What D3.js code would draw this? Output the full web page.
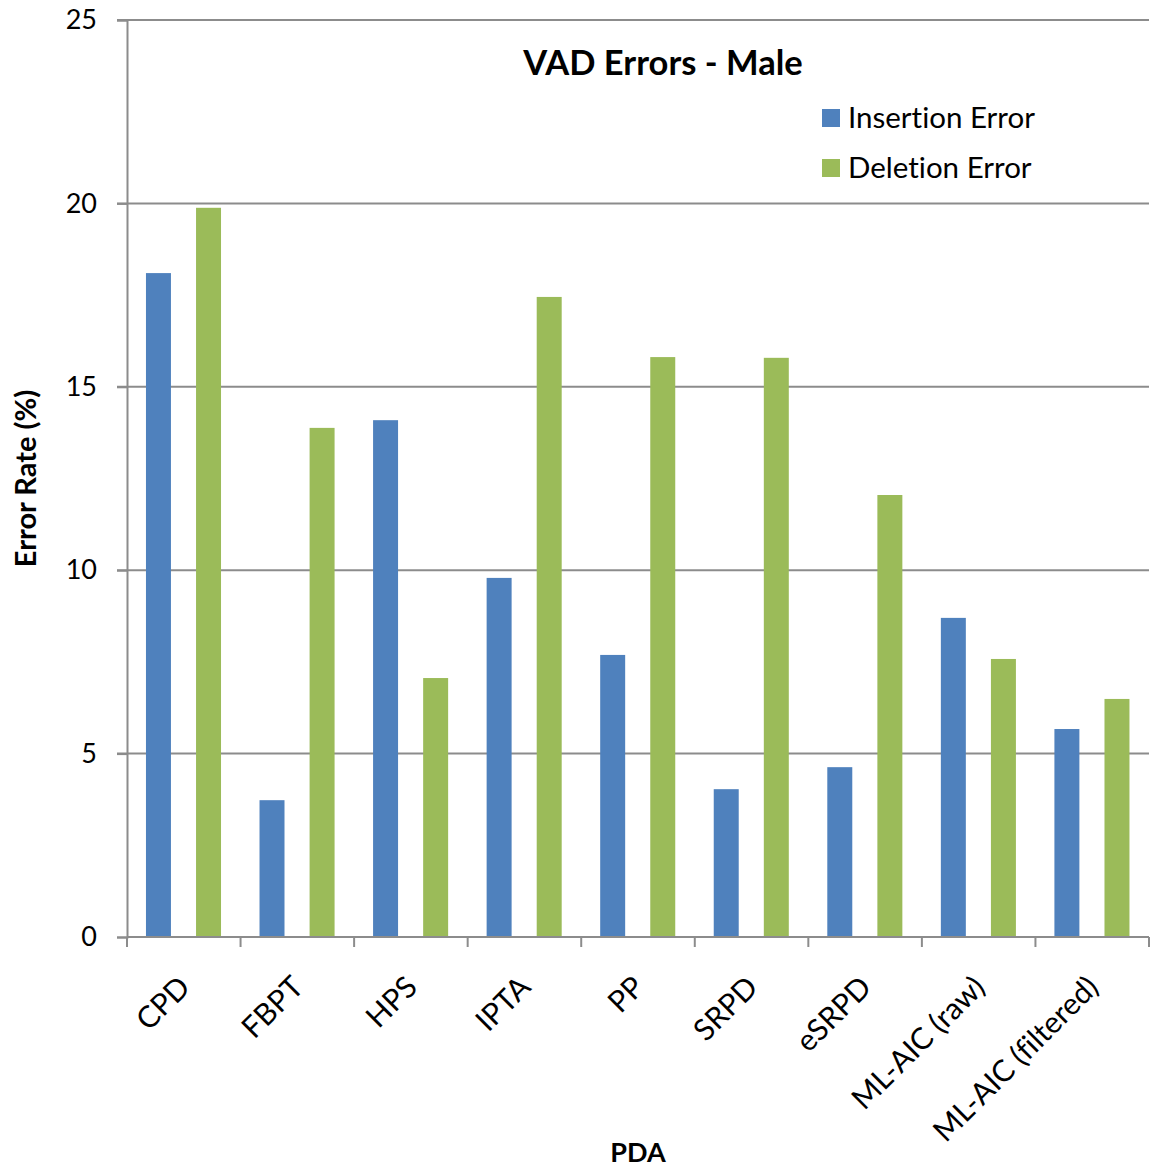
<!DOCTYPE html>
<html>
<head>
<meta charset="utf-8">
<script src="https://cdn.jsdelivr.net/npm/d3@7"></script>
<style>
  html, body { margin: 0; padding: 0; background: #fff; }
  svg { display: block; font-family: Lato, "Open Sans", sans-serif; font-variant-ligatures: none; font-feature-settings: "liga" 0, "dlig" 0; }
</style>
</head>
<body>
<svg id="chart" width="1150" height="1169"></svg>
<script>
// PDA algorithms compared for voice activity detection errors (male speakers)
const categories = ["CPD", "FBPT", "HPS", "IPTA", "PP", "SRPD", "eSRPD", "ML-AIC (raw)", "ML-AIC (filtered)"];
const insertionError = [18.10, 3.73, 14.09, 9.79, 7.69, 4.03, 4.63, 8.70, 5.67];
const deletionError  = [19.88, 13.88, 7.06, 17.45, 15.81, 15.79, 12.05, 7.58, 6.49];
const seriesNames = ["Insertion Error", "Deletion Error"];
const yTicks = [0, 5, 10, 15, 20, 25];

const colors = ["#4F81BD", "#9BBB59"];
const gridColor = "#8c8c8c";

const svg = d3.select("#chart");
const margin = { left: 127, right: 1149, top: 20, bottom: 937 };

const x = d3.scaleBand().domain(categories).range([margin.left, margin.right]).padding(0);
const y = d3.scaleLinear().domain([0, 25]).range([margin.bottom, margin.top]);

// Horizontal gridlines
svg.append("g")
  .selectAll("line")
  .data(yTicks.filter(d => d > 0))
  .join("line")
  .attr("x1", margin.left - 10)
  .attr("x2", margin.right)
  .attr("y1", d => y(d))
  .attr("y2", d => y(d))
  .attr("stroke", gridColor)
  .attr("stroke-width", 2);

// Bars: two series per category with a gap between them
const bw = x.bandwidth();
const barW = bw * 0.22;
const offsets = [bw * 0.167, bw * 0.608];
const seriesData = [insertionError, deletionError];

seriesData.forEach((vals, si) => {
  svg.append("g")
    .selectAll("rect")
    .data(vals)
    .join("rect")
    .attr("x", (d, i) => x(categories[i]) + offsets[si])
    .attr("width", barW)
    .attr("y", d => y(d))
    .attr("height", d => y(0) - y(d))
    .attr("fill", colors[si]);
});

// Y axis
const yAxis = d3.axisLeft(y).tickValues(yTicks).tickSize(10).tickPadding(20).tickFormat(d3.format("d"));
const gy = svg.append("g").attr("transform", `translate(${margin.left},0)`).call(yAxis);
gy.select(".domain").attr("stroke", gridColor).attr("stroke-width", 2);
gy.selectAll(".tick line").attr("stroke", gridColor).attr("stroke-width", 2);
gy.selectAll(".tick text")
  .attr("font-family", "Lato, sans-serif")
  .attr("font-size", 27)
  .attr("fill", "#000");

// X axis: tick marks at category boundaries
const bounds = categories.map(c => x(c)).concat([x(categories[categories.length - 1]) + bw]);
svg.append("line")
  .attr("x1", margin.left).attr("x2", margin.right)
  .attr("y1", y(0)).attr("y2", y(0))
  .attr("stroke", gridColor).attr("stroke-width", 2);
svg.append("g")
  .selectAll("line")
  .data(bounds)
  .join("line")
  .attr("x1", d => d).attr("x2", d => d)
  .attr("y1", y(0)).attr("y2", y(0) + 10)
  .attr("stroke", gridColor).attr("stroke-width", 2);

// Rotated category labels
svg.append("g")
  .selectAll("text")
  .data(categories)
  .join("text")
  .attr("transform", d => `translate(${x(d) + bw / 2 + 8},${y(0) + 52}) rotate(-45)`)
  .attr("text-anchor", "end")
  .attr("font-size", 30)
  .attr("fill", "#000")
  .text(d => d);

// Axis titles
svg.append("text")
  .attr("transform", `translate(36,${(margin.top + margin.bottom) / 2}) rotate(-90)`)
  .attr("text-anchor", "middle")
  .attr("font-size", 29)
  .attr("font-weight", "bold")
  .text("Error Rate (%)");

svg.append("text")
  .attr("x", 638)
  .attr("y", 1162)
  .attr("text-anchor", "middle")
  .attr("font-size", 27)
  .attr("font-weight", "bold")
  .text("PDA");

// Chart title
svg.append("text")
  .attr("x", 663)
  .attr("y", 75)
  .attr("text-anchor", "middle")
  .attr("font-size", 34.5)
  .attr("font-weight", "bold")
  .text("VAD Errors - Male");

// Legend
const legend = svg.append("g");
seriesNames.forEach((name, i) => {
  const ly = 118 + i * 50;
  legend.append("rect")
    .attr("x", 822).attr("y", ly - 9)
    .attr("width", 18).attr("height", 18)
    .attr("fill", colors[i]);
  legend.append("text")
    .attr("x", 848).attr("y", ly)
    .attr("dy", "0.35em")
    .attr("font-size", 29.5)
    .attr("fill", "#000")
    .text(name);
});
</script>
</body>
</html>
